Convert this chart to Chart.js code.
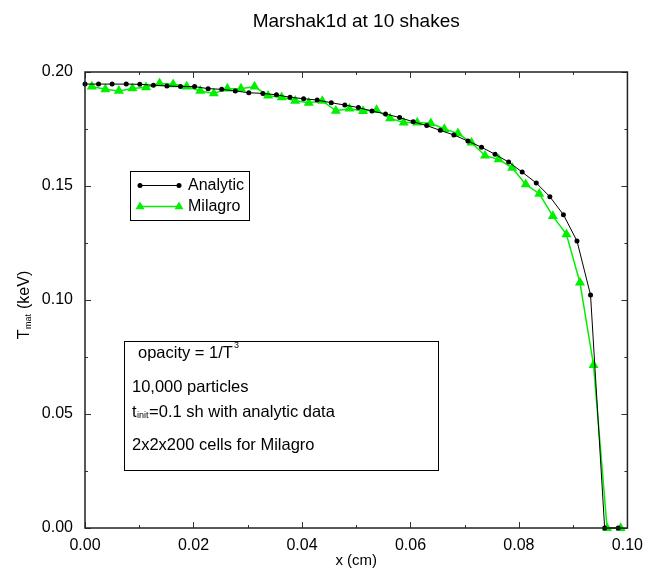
<!DOCTYPE html>
<html>
<head>
<meta charset="utf-8">
<title>Marshak1d at 10 shakes</title>
<script src="https://cdn.jsdelivr.net/npm/chart.js@4/dist/chart.umd.min.js"></script>
<style>
  html, body { margin: 0; padding: 0; background: #fff; }
  #caixa { position: relative; width: 651px; height: 575px; }
</style>
</head>
<body>
<div id="caixa"><canvas id="grafico"></canvas></div>
<script>
// ── Dados: solução analítica x Milagro (Tmat em keV, x em cm) ──
const xAnalitico = [
  0, 0.0025, 0.0050, 0.0076, 0.0101, 0.0126, 0.0151, 0.0176, 0.0202, 0.0227,
  0.0252, 0.0277, 0.0302, 0.0328, 0.0353, 0.0378, 0.0403, 0.0428, 0.0454, 0.0479,
  0.0504, 0.0529, 0.0554, 0.0580, 0.0605, 0.0630, 0.0655, 0.0680, 0.0706, 0.0731,
  0.0756, 0.0781, 0.0806, 0.0832, 0.0857, 0.0882, 0.0907, 0.0932, 0.0958, 0.0983
];
const tAnalitico = [
  0.1947, 0.1947, 0.1947, 0.1947, 0.1946, 0.1942, 0.1939, 0.1936, 0.1936, 0.1927,
  0.1924, 0.1917, 0.1909, 0.1906, 0.1900, 0.1889, 0.1883, 0.1877, 0.1865, 0.1855,
  0.1844, 0.1829, 0.1816, 0.1800, 0.1782, 0.1765, 0.1744, 0.1724, 0.1697, 0.1670,
  0.1639, 0.1605, 0.1561, 0.1513, 0.1453, 0.1374, 0.1259, 0.1022, 0, 0
];

const xMilagro = [
  0.00125, 0.00375, 0.00625, 0.00875, 0.01125, 0.01375, 0.01625, 0.01875, 0.02125, 0.02375,
  0.02625, 0.02875, 0.03125, 0.03375, 0.03625, 0.03875, 0.04125, 0.04375, 0.04625, 0.04875,
  0.05125, 0.05375, 0.05625, 0.05875, 0.06125, 0.06375, 0.06625, 0.06875, 0.07125, 0.07375,
  0.07625, 0.07875, 0.08125, 0.08375, 0.08625, 0.08875, 0.09125, 0.09375, 0.09625, 0.09875
];
const tMilagro = [
  0.1936, 0.1924, 0.1917, 0.1928, 0.1933, 0.1950, 0.1946, 0.1936, 0.1917, 0.1906,
  0.1927, 0.1927, 0.1936, 0.1896, 0.1889, 0.1874, 0.1865, 0.1873, 0.1830, 0.1839,
  0.1829, 0.1833, 0.1797, 0.1778, 0.1778, 0.1775, 0.1750, 0.1731, 0.1690, 0.1633,
  0.1617, 0.1580, 0.1507, 0.1466, 0.1368, 0.1288, 0.1076, 0.0715, 0, 0
];

// ticks dos eixos (principais e secundários)
const ticksX      = [0, 0.02, 0.04, 0.06, 0.08, 0.10];
const ticksXMenor = [0.01, 0.03, 0.05, 0.07, 0.09];
const ticksY      = [0, 0.05, 0.10, 0.15, 0.20];
const ticksYMenor = [0.025, 0.075, 0.125, 0.175];

const FONTE = "'Liberation Sans', Arial, Helvetica, sans-serif";
const VERDE = "#00f000";

function pares(xs, ys) {
  return xs.map((x, i) => ({ x: x, y: ys[i] }));
}

// ── Plugin: moldura, ticks internos, títulos, legenda e caixa de texto ──
const moldura = {
  id: "moldura",
  afterDraw(chart) {
    const ctx = chart.ctx;
    const a = chart.chartArea;
    const sx = chart.scales.x, sy = chart.scales.y;
    ctx.save();

    // ticks para dentro em todos os lados
    ctx.strokeStyle = "#333";
    ctx.lineWidth = 1;
    const tickX = (v, len) => {
      const px = Math.round(sx.getPixelForValue(v)) + 0.5;
      ctx.beginPath();
      ctx.moveTo(px, a.bottom); ctx.lineTo(px, a.bottom - len);
      ctx.moveTo(px, a.top);    ctx.lineTo(px, a.top + len);
      ctx.stroke();
    };
    const tickY = (v, len) => {
      const py = Math.round(sy.getPixelForValue(v)) + 0.5;
      ctx.beginPath();
      ctx.moveTo(a.left, py);  ctx.lineTo(a.left + len, py);
      ctx.moveTo(a.right, py); ctx.lineTo(a.right - len, py);
      ctx.stroke();
    };
    ticksX.forEach(v => tickX(v, 6));
    ticksXMenor.forEach(v => tickX(v, 3));
    ticksY.forEach(v => tickY(v, 6));
    ticksYMenor.forEach(v => tickY(v, 3));

    ctx.lineWidth = 1.5;
    ctx.strokeStyle = "#222";
    ctx.strokeRect(a.left, a.top, a.right - a.left, a.bottom - a.top);

    ctx.fillStyle = "#000";
    ctx.textBaseline = "middle";

    // título
    ctx.font = "19px " + FONTE;
    ctx.textAlign = "center";
    ctx.fillText("Marshak1d at 10 shakes", (a.left + a.right) / 2, 22);

    // título do eixo x
    ctx.font = "15px " + FONTE;
    ctx.fillText("x (cm)", (a.left + a.right) / 2, 561);

    // título do eixo y com subscrito
    ctx.save();
    ctx.translate(25, 305);
    ctx.rotate(-Math.PI / 2);
    ctx.textAlign = "left";
    ctx.font = "16px " + FONTE;
    const wT = ctx.measureText("T").width;
    ctx.font = "9px " + FONTE;
    const wSub = ctx.measureText("mat").width;
    ctx.font = "16px " + FONTE;
    const wResto = ctx.measureText(" (keV)").width;
    let x0 = -(wT + wSub + 1 + wResto) / 2;
    ctx.fillText("T", x0, 0);
    ctx.font = "9px " + FONTE;
    ctx.fillText("mat", x0 + wT + 0.5, 4);
    ctx.font = "16px " + FONTE;
    ctx.fillText(" (keV)", x0 + wT + wSub + 1, 0);
    ctx.restore();

    // legenda
    ctx.lineWidth = 1;
    ctx.strokeStyle = "#000";
    ctx.strokeRect(130.5, 171.5, 119, 49);
    ctx.beginPath();
    ctx.moveTo(140, 185.5); ctx.lineTo(179, 185.5);
    ctx.stroke();
    [140, 179].forEach(px => {
      ctx.beginPath();
      ctx.arc(px, 185.5, 2.5, 0, Math.PI * 2);
      ctx.fill();
    });
    ctx.strokeStyle = VERDE;
    ctx.lineWidth = 1.5;
    ctx.beginPath();
    ctx.moveTo(140, 206.5); ctx.lineTo(179, 206.5);
    ctx.stroke();
    ctx.fillStyle = VERDE;
    [140, 179].forEach(px => {
      ctx.beginPath();
      ctx.moveTo(px, 206.5 - 5);
      ctx.lineTo(px + 4.5, 206.5 + 2.7);
      ctx.lineTo(px - 4.5, 206.5 + 2.7);
      ctx.closePath();
      ctx.fill();
    });
    ctx.fillStyle = "#000";
    ctx.font = "16px " + FONTE;
    ctx.textAlign = "left";
    ctx.fillText("Analytic", 188, 186);
    ctx.fillText("Milagro", 188, 207);

    // caixa de texto com os parâmetros da simulação
    ctx.lineWidth = 1;
    ctx.strokeStyle = "#000";
    ctx.strokeRect(124.5, 341.5, 314, 129);
    const fonteCaixa = "16.5px " + FONTE;
    const fontePeq = "9px " + FONTE;
    ctx.font = fonteCaixa;
    ctx.fillText("opacity = 1/T", 138, 353);
    const wOp = ctx.measureText("opacity = 1/T").width;
    ctx.font = fontePeq;
    ctx.fillText("3", 138 + wOp + 1, 346);
    ctx.font = fonteCaixa;
    ctx.fillText("10,000 particles", 132, 387);
    ctx.fillText("t", 132, 412);
    const wt = ctx.measureText("t").width;
    ctx.font = fontePeq;
    ctx.fillText("init", 132 + wt + 0.5, 416);
    const wInit = ctx.measureText("init").width;
    ctx.font = fonteCaixa;
    ctx.fillText("=0.1 sh with analytic data", 132 + wt + wInit + 1, 412);
    ctx.fillText("2x2x200 cells for Milagro", 132, 445);

    ctx.restore();
  }
};

// ── Gráfico ──
new Chart(document.getElementById("grafico"), {
  type: "line",
  data: {
    datasets: [
      {
        label: "Analytic",
        data: pares(xAnalitico, tAnalitico),
        borderColor: "#000",
        backgroundColor: "#000",
        borderWidth: 1,
        pointStyle: "circle",
        pointRadius: 2.5,
        pointBorderWidth: 0,
        tension: 0,
        clip: false,
      },
      {
        label: "Milagro",
        data: pares(xMilagro, tMilagro),
        borderColor: VERDE,
        backgroundColor: VERDE,
        borderWidth: 1.5,
        pointStyle: "triangle",
        pointRadius: 5.8,
        pointBorderWidth: 0,
        tension: 0,
        clip: false,
      }
    ]
  },
  options: {
    responsive: true,
    maintainAspectRatio: false,
    animation: false,
    devicePixelRatio: 1,
    layout: { padding: { top: 72, right: 16, left: 0, bottom: 0 } },
    plugins: {
      legend: { display: false },
      title: { display: false },
      tooltip: { enabled: false }
    },
    scales: {
      x: {
        type: "linear",
        min: 0, max: 0.1,
        afterFit: s => { s.height = 47; },
        afterBuildTicks: s => { s.ticks = ticksX.map(v => ({ value: v })); },
        grid: { display: false, drawTicks: false },
        border: { display: false },
        ticks: {
          padding: 8,
          color: "#000",
          font: { family: FONTE, size: 16 },
          callback: v => v.toFixed(2)
        }
      },
      y: {
        type: "linear",
        min: 0, max: 0.2,
        afterFit: s => { s.width = 85; },
        afterBuildTicks: s => { s.ticks = ticksY.map(v => ({ value: v })); },
        grid: { display: false, drawTicks: false },
        border: { display: false },
        ticks: {
          padding: 12,
          color: "#000",
          font: { family: FONTE, size: 16 },
          callback: v => v.toFixed(2)
        }
      }
    }
  },
  plugins: [moldura]
});
</script>
</body>
</html>
